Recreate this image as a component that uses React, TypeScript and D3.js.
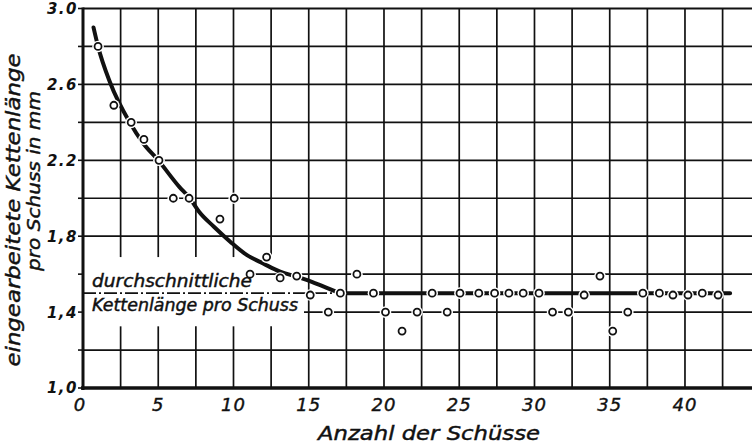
import React from "react";
import * as d3 from "d3";

// Measured warp length taken up per pick, by pick number
const shots = [
  1.0, 2.05, 3.2, 4.05, 5.05, 6.0, 7.05, 9.1, 10.05, 11.1, 12.2, 13.1, 14.2, 15.1,
  16.3, 17.1, 18.2, 19.3, 20.1, 21.2, 22.2, 23.2, 24.2, 25.05, 26.3, 27.35, 28.3,
  29.25, 30.3, 31.2, 32.25, 33.3, 34.35, 35.2, 36.2, 37.2, 38.3, 39.2, 40.2, 41.15, 42.2,
];
const lengths = [
  2.8, 2.49, 2.4, 2.31, 2.2, 2.0, 2.0, 1.89, 2.0, 1.6, 1.69, 1.58, 1.59, 1.49,
  1.4, 1.5, 1.6, 1.5, 1.4, 1.3, 1.4, 1.5, 1.4, 1.5, 1.5, 1.5, 1.5,
  1.5, 1.5, 1.4, 1.4, 1.49, 1.59, 1.3, 1.4, 1.5, 1.5, 1.49, 1.49, 1.5, 1.49,
];

// Hand-drawn trend curve (thick line)
const trendX = [0.7, 1.0, 1.8, 3.1, 4.0, 5.0, 6.4, 7.1, 7.7, 8.7, 9.8, 10.9, 12.0, 13.1, 14.2, 14.9, 16.0, 16.85, 17.1, 43.0];
const trendY = [2.9, 2.8, 2.61, 2.4, 2.29, 2.2, 2.06, 2.0, 1.93, 1.85, 1.77, 1.7, 1.655, 1.613, 1.587, 1.569, 1.534, 1.507, 1.5, 1.5];

// Average warp length per pick
const averageLength = 1.5;
const averageEnd = 17.1;

const xTicks = [0, 5, 10, 15, 20, 25, 30, 35, 40];
const yTicks = [1.0, 1.4, 1.8, 2.2, 2.6, 3.0];
const yTickLabels = ["1,0", "1,4", "1,8", "2.2", "2.6", "3.0"];
const xGridValues = [2.5, 5, 7.5, 10, 12.5, 15, 17.5, 20, 22.5, 25, 27.5, 30, 32.5, 35, 37.5, 40, 42.5];
const yGridValues = [1.2, 1.4, 1.6, 1.8, 2.0, 2.2, 2.4, 2.6, 2.8];

const W = 752;
const H = 448;
const INK = "#111";
const FONT = "'DejaVu Sans', Verdana, sans-serif";

export default function App() {
  const x = d3.scaleLinear().domain([0, 44.5]).range([83, 752.7]);
  const y = d3.scaleLinear().domain([1, 3]).range([388, 8.5]);

  const points = shots.map((s, i) => ({ s, v: lengths[i] }));
  const trend = trendX.map((t, i) => [t, trendY[i]] as [number, number]);
  const line = d3
    .line<[number, number]>()
    .x((d) => x(d[0]))
    .y((d) => y(d[1]))
    .curve(d3.curveMonotoneX);

  // area kept free of grid lines around the inline caption
  const gapTop = y(1.69);
  const gapBottom = y(1.325);

  const vSegments: { x: number; y1: number; y2: number }[] = [];
  xGridValues.forEach((g) => {
    if (g <= 12.5) {
      vSegments.push({ x: x(g), y1: y(3), y2: gapTop });
      vSegments.push({ x: x(g), y1: gapBottom, y2: y(1) });
    } else {
      vSegments.push({ x: x(g), y1: y(3), y2: y(1) });
    }
  });

  const hSegments = yGridValues.map((g) => {
    let start = x(0);
    if (Math.abs(g - 1.6) < 1e-6) start = 248;
    if (Math.abs(g - 1.4) < 1e-6) start = 304;
    return { y: y(g), x1: start, x2: W };
  });

  return (
    <svg
      width={W}
      height={H}
      viewBox={`0 0 ${W} ${H}`}
      style={{ position: "absolute", left: 0, top: 0, background: "#fff" }}
    >
      <rect x={0} y={0} width={W} height={H} fill="#fff" />

      {/* grid */}
      <g stroke={INK} strokeWidth={1.7}>
        {vSegments.map((s, i) => (
          <line key={`v${i}`} x1={s.x} x2={s.x} y1={s.y1} y2={s.y2} />
        ))}
        {hSegments.map((s, i) => (
          <line key={`h${i}`} x1={s.x1} x2={s.x2} y1={s.y} y2={s.y} />
        ))}
        <line x1={x(0)} x2={W} y1={y(3)} y2={y(3)} strokeWidth={2} />
      </g>

      {/* small ticks left of the y axis */}
      <g stroke={INK} strokeWidth={1.6}>
        {[...yGridValues, 1.0, 3.0].map((g, i) => (
          <line key={`t${i}`} x1={x(0) - 5} x2={x(0)} y1={y(g)} y2={y(g)} />
        ))}
      </g>

      {/* axes */}
      <line x1={x(0)} x2={x(0)} y1={y(3) - 1} y2={y(1) + 2} stroke={INK} strokeWidth={3} />
      <line x1={x(0) - 2} x2={W} y1={y(1)} y2={y(1)} stroke={INK} strokeWidth={3.5} />

      {/* average line, dash-dot */}
      <line
        x1={x(0)}
        x2={x(averageEnd)}
        y1={y(averageLength)}
        y2={y(averageLength)}
        stroke={INK}
        strokeWidth={1.6}
        strokeDasharray="13 3 2 3"
      />

      {/* trend curve */}
      <path d={line(trend) ?? ""} fill="none" stroke={INK} strokeWidth={4} strokeLinecap="round" />

      {/* measured points */}
      <g>
        {points.map((p, i) => (
          <circle key={`w${i}`} cx={x(p.s)} cy={y(p.v)} r={5.8} fill="#fff" />
        ))}
        {points.map((p, i) => (
          <circle
            key={`c${i}`}
            cx={x(p.s)}
            cy={y(p.v)}
            r={3.5}
            fill="#fff"
            stroke={INK}
            strokeWidth={1.8}
          />
        ))}
      </g>

      {/* inline caption */}
      <g fontFamily={FONT} fontStyle="italic" fill={INK} stroke={INK} strokeWidth={0.45}>
        <text x={92} y={287} fontSize={17} textLength={160} lengthAdjust="spacingAndGlyphs">
          durchschnittliche
        </text>
        <text x={92} y={311} fontSize={17} textLength={206} lengthAdjust="spacingAndGlyphs">
          Kettenlänge pro Schuss
        </text>
      </g>

      {/* y tick labels */}
      <g fontFamily={FONT} fontStyle="italic" fontWeight="bold" fill={INK} fontSize={15}>
        {yTicks.map((t, i) => (
          <text key={`yl${i}`} x={78} y={y(t)} dy="0.36em" textAnchor="end" letterSpacing={1.5}>
            {yTickLabels[i]}
          </text>
        ))}
      </g>

      {/* x tick labels */}
      <g fontFamily={FONT} fontStyle="italic" fill={INK} fontSize={18} stroke={INK} strokeWidth={0.4}>
        {xTicks.map((t) => (
          <text key={`xl${t}`} x={x(t) - (t === 0 ? 3 : 0)} y={411} textAnchor="middle" letterSpacing={1}>
            {t}
          </text>
        ))}
      </g>

      {/* axis titles */}
      <g fontFamily={FONT} fontStyle="italic" fill={INK} stroke={INK} strokeWidth={0.45}>
        <text x={318} y={440} fontSize={20} textLength={222} lengthAdjust="spacingAndGlyphs">
          Anzahl der Schüsse
        </text>
        <text
          transform="translate(20,210) rotate(-90)"
          textAnchor="middle"
          fontSize={19}
          textLength={313}
          lengthAdjust="spacingAndGlyphs"
        >
          eingearbeitete Kettenlänge
        </text>
        <text
          transform="translate(40,181) rotate(-90)"
          textAnchor="middle"
          fontSize={18}
          textLength={180}
          lengthAdjust="spacingAndGlyphs"
        >
          pro Schuss in mm
        </text>
      </g>
    </svg>
  );
}
